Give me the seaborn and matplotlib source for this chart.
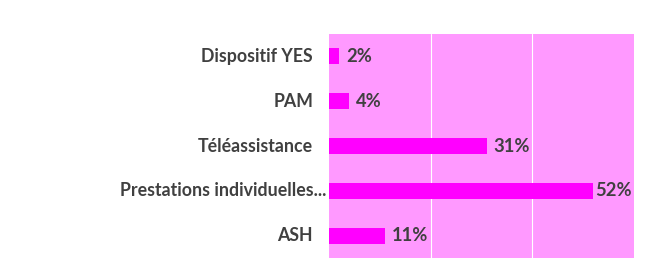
import matplotlib
matplotlib.use("Agg")
import matplotlib.pyplot as plt
import matplotlib.transforms as mtransforms
import seaborn as sns
import pandas as pd

categories = ["Dispositif YES", "PAM", "Téléassistance", "Prestations individuelles...", "ASH"]
values = [0.02, 0.04, 0.31, 0.52, 0.11]
value_labels = ["2%", "4%", "31%", "52%", "11%"]

sns.set_theme(style="white")
plt.rcParams['font.family'] = ['Lato', 'DejaVu Sans']

df = pd.DataFrame({"cat": categories, "val": values})

fig = plt.figure(figsize=(6.49, 2.69), dpi=100)
ax = fig.add_axes([329/649, 1 - 258/269, (634-329)/649, (258-34)/269])
ax.set_facecolor("#FF99FF")
sns.barplot(data=df, y="cat", x="val", color="#FF00FF", saturation=1, width=0.36,
            linewidth=0, ax=ax, orient="h")
ax.set_xlim(0, 0.6)
ax.set_xticks([0.2, 0.4])
ax.xaxis.grid(True, color="white", linewidth=0.8)
ax.set_axisbelow(True)
ax.tick_params(axis="x", length=0, labelbottom=False)
ax.tick_params(axis="y", length=0, labelleft=False)
base = ax.get_yaxis_transform()
for i, c in enumerate(categories):
    dx = -3 if c.endswith("...") else -16
    tr = base + mtransforms.ScaledTranslation(dx / 100, 0, fig.dpi_scale_trans)
    ax.text(0, i, c, transform=tr, ha="right", va="center", fontsize=12.8,
            fontweight="bold", color="#404040")
for i, (v, t) in enumerate(zip(values, value_labels)):
    ax.text(v + 0.003 if v > 0.5 else v + 0.014, i, t, va="center", ha="left",
            fontsize=13.2, fontweight="bold", color="#404040")
ax.set_xlabel("")
ax.set_ylabel("")
for s in ax.spines.values():
    s.set_visible(False)
fig.savefig("out.png", dpi=100, facecolor="white")
